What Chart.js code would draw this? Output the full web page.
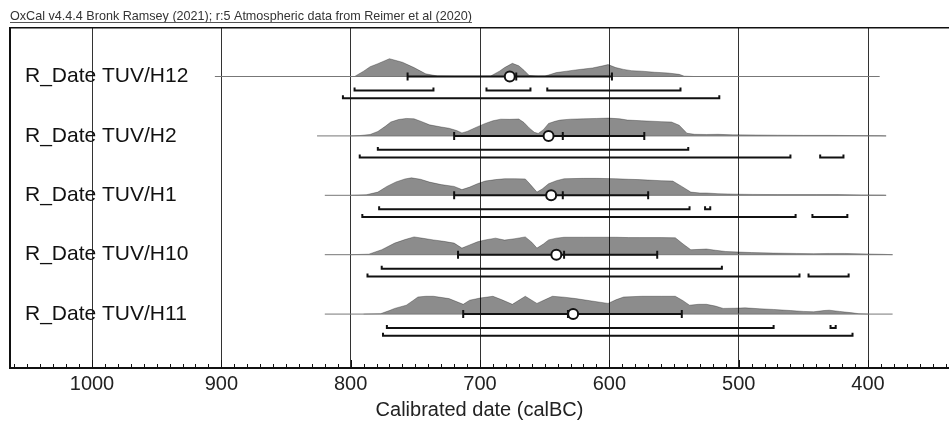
<!DOCTYPE html>
<html>
<head>
<meta charset="utf-8">
<script src="https://cdn.jsdelivr.net/npm/chart.js@4.4.1/dist/chart.umd.min.js"></script>
<style>
  html, body { margin: 0; padding: 0; background: #fff; overflow: hidden; }
  #wrap { width: 949px; height: 426px; }
</style>
</head>
<body>
<div id="wrap"><canvas id="chart"></canvas></div>
<script>
const titleText = 'OxCal v4.4.4 Bronk Ramsey (2021); r:5 Atmospheric data from Reimer et al (2020)';
const rowLabels = ['R_Date TUV/H12', 'R_Date TUV/H2', 'R_Date TUV/H1', 'R_Date TUV/H10', 'R_Date TUV/H11'];
const tickYears = [1000, 900, 800, 700, 600, 500, 400];

// probability curves (calBC, relative height)
const h12Years = [805, 797, 790, 785, 779, 770, 760, 751, 742, 733, 720, 700, 692, 685, 681, 675, 670, 666, 662, 655, 650, 641, 633, 626, 620, 613, 605, 601, 595, 589, 583, 575, 565, 555, 546, 542, 535];
const h12Prob  = [0, 0, 0.3, 0.55, 0.72, 1.0, 0.8, 0.5, 0.15, 0.03, 0.01, 0.01, 0.02, 0.3, 0.5, 0.74, 0.6, 0.35, 0.06, 0.01, 0.02, 0.22, 0.3, 0.37, 0.42, 0.48, 0.6, 0.67, 0.5, 0.4, 0.33, 0.3, 0.24, 0.2, 0.12, 0.02, 0];
const h2Years = [800, 793, 785, 779, 773, 769, 763, 757, 751, 745, 739, 730, 724, 718, 714, 710, 704, 696, 690, 684, 677, 670, 666, 662, 658, 655, 651, 647, 642, 638, 630, 620, 610, 601, 592, 586, 575, 560, 552, 546, 540, 534, 525, 516, 505, 485, 470, 450, 430, 410, 390, 386];
const h2Prob  = [0, 0.02, 0.08, 0.25, 0.55, 0.78, 0.92, 0.98, 0.96, 0.8, 0.62, 0.5, 0.43, 0.3, 0.17, 0.25, 0.45, 0.7, 0.85, 0.94, 0.93, 0.95, 0.75, 0.45, 0.2, 0.14, 0.35, 0.7, 0.82, 0.89, 0.94, 0.96, 0.98, 1.0, 0.96, 0.89, 0.85, 0.8, 0.78, 0.6, 0.15, 0.09, 0.08, 0.09, 0.06, 0.05, 0.04, 0.03, 0.03, 0.02, 0.01, 0];
const h1Years = [800, 788, 779, 772, 765, 758, 753, 746, 739, 730, 720, 714, 708, 702, 696, 688, 681, 673, 665, 661, 656, 652, 647, 641, 635, 620, 610, 595, 585, 577, 560, 551, 544, 537, 530, 525, 516, 500, 489, 470, 458, 440, 424, 405, 388, 386];
const h1Prob  = [0, 0.03, 0.18, 0.5, 0.75, 0.92, 0.98, 0.9, 0.74, 0.6, 0.5, 0.32, 0.46, 0.65, 0.8, 0.88, 0.93, 0.93, 0.92, 0.6, 0.18, 0.35, 0.65, 0.82, 0.93, 0.95, 0.95, 0.93, 0.9, 0.88, 0.82, 0.8, 0.5, 0.18, 0.13, 0.13, 0.09, 0.06, 0.05, 0.04, 0.04, 0.04, 0.04, 0.02, 0.01, 0];
const h10Years = [800, 786, 776, 766, 758, 751, 744, 736, 728, 720, 714, 708, 702, 696, 688, 681, 673, 665, 660, 656, 651, 647, 641, 635, 620, 595, 585, 577, 560, 549, 543, 537, 530, 525, 518, 510, 490, 473, 455, 442, 430, 418, 400, 388, 381];
const h10Prob  = [0, 0.03, 0.28, 0.65, 0.85, 1.0, 0.92, 0.83, 0.75, 0.65, 0.37, 0.55, 0.72, 0.83, 0.93, 0.82, 0.9, 1.0, 0.7, 0.37, 0.6, 0.83, 0.93, 0.98, 0.98, 0.98, 0.96, 0.96, 0.96, 0.95, 0.6, 0.28, 0.3, 0.32, 0.25, 0.18, 0.12, 0.09, 0.07, 0.06, 0.07, 0.07, 0.04, 0.02, 0];
const h11Years = [790, 777, 770, 766, 757, 752, 748, 742, 736, 724, 713, 708, 700, 690, 683, 675, 665, 656, 650, 644, 635, 626, 615, 601, 595, 589, 575, 560, 549, 543, 538, 531, 525, 518, 512, 503, 495, 484, 473, 460, 450, 442, 434, 430, 422, 412, 407, 400];
const h11Prob  = [0, 0.02, 0.2, 0.32, 0.5, 0.75, 0.96, 1.0, 1.0, 0.87, 0.55, 0.78, 0.9, 1.0, 0.8, 0.55, 1.0, 0.6, 0.8, 1.0, 0.95, 0.87, 0.75, 0.6, 0.8, 0.96, 1.0, 1.0, 1.0, 0.75, 0.5, 0.55, 0.55, 0.45, 0.32, 0.33, 0.35, 0.3, 0.26, 0.2, 0.15, 0.13, 0.2, 0.22, 0.15, 0.07, 0.02, 0];
const curveYears = [h12Years, h2Years, h1Years, h10Years, h11Years];
const curveProb = [h12Prob, h2Prob, h1Prob, h10Prob, h11Prob];

// extent of the thin line under each curve
const lineFrom = [905, 826, 820, 820, 820];
const lineTo   = [391, 386, 386, 381, 381];

// mean +/- sigma, mean, median
const sigmaFrom = [756, 720, 720, 717, 713];
const sigmaTo   = [598, 573, 570, 563, 544];
const means     = [677, 647, 645, 641, 628];
const medians   = [672, 636, 636, 635, 632];

// 68.3% and 95.4% ranges
const range68 = [[[797, 736], [695, 661], [648, 545]], [[779, 539]], [[778, 538], [526, 522]], [[776, 513]], [[772, 473], [429, 425]]];
const range95 = [[[806, 515]], [[793, 460], [437, 419]], [[791, 456], [443, 416]], [[787, 453], [446, 415]], [[775, 412]]];

const FONT = "'Liberation Sans', Arial, sans-serif";
const TITLE_SIZE = 12.6;
const PEAK = 0.3;       // curve height in row units
const TICK_UP = 0.05;   // bracket end height
const OFF68 = 0.235, OFF95 = 0.365;

function brackets(ranges, off) {
  const pts = [];
  ranges.forEach((row, i) => {
    row.forEach(([a, b]) => {
      pts.push({x: a, y: i + off - TICK_UP}, {x: a, y: i + off}, {x: b, y: i + off}, {x: b, y: i + off - TICK_UP}, {x: b, y: null});
    });
  });
  return pts;
}

const datasets = [];
curveYears.forEach((yrs, i) => {
  datasets.push({
    data: yrs.map((yr, k) => ({x: yr, y: i - curveProb[i][k] * PEAK})),
    fill: {value: i},
    backgroundColor: 'rgba(0,0,0,0.45)',
    borderColor: 'rgba(0,0,0,0.3)',
    borderWidth: 1,
    pointRadius: 0,
    order: 6
  });
});
datasets.push({
  data: lineFrom.flatMap((a, i) => [{x: a, y: i}, {x: lineTo[i], y: i}, {x: lineTo[i], y: null}]),
  borderColor: '#777', borderWidth: 1, pointRadius: 0, order: 5
});
datasets.push({
  data: brackets(range68, OFF68).concat(brackets(range95, OFF95)),
  borderColor: '#111', borderWidth: 2, pointRadius: 0, order: 4
});
datasets.push({
  data: sigmaFrom.flatMap((a, i) => [{x: a, y: i}, {x: sigmaTo[i], y: i}, {x: sigmaTo[i], y: null}]),
  borderColor: '#111', borderWidth: 2,
  pointStyle: 'line', rotation: 90, pointRadius: 4, pointBorderWidth: 2, pointBorderColor: '#111',
  order: 3
});
datasets.push({
  data: means.map((m, i) => ({x: m, y: i})),
  showLine: false, pointRadius: 5, pointBackgroundColor: '#fff', pointBorderColor: '#111', pointBorderWidth: 2,
  order: 2
});
datasets.push({
  data: medians.map((m, i) => ({x: m, y: i})),
  showLine: false, pointStyle: 'line', rotation: 90, pointRadius: 4, pointBorderWidth: 2, pointBorderColor: '#111',
  order: 1
});

const extras = {
  id: 'extras',
  afterDraw(chart) {
    const {ctx, chartArea, scales: {x}} = chart;
    ctx.save();
    ctx.strokeStyle = '#111';
    ctx.lineWidth = 1;
    for (let v = Math.ceil(x.min / 10) * 10; v <= x.max; v += 10) {
      const px = Math.round(x.getPixelForValue(v)) + 0.5;
      const len = v % 100 === 0 ? 8 : 4;
      ctx.beginPath();
      ctx.moveTo(px, chartArea.bottom);
      ctx.lineTo(px, chartArea.bottom - len);
      ctx.stroke();
    }
    // underline the title
    const tb = chart.titleBlock;
    const opts = tb.options;
    ctx.font = TITLE_SIZE + 'px ' + FONT;
    const w = ctx.measureText(titleText).width;
    const y = Math.round(tb.top + opts.padding.top + TITLE_SIZE * 1.2 / 2 + TITLE_SIZE * 0.5) + 0.5;
    ctx.strokeStyle = '#555';
    ctx.beginPath();
    ctx.moveTo(tb.left, y);
    ctx.lineTo(tb.left + w, y);
    ctx.stroke();
    ctx.restore();
  }
};

new Chart(document.getElementById('chart'), {
  type: 'line',
  data: {datasets},
  options: {
    responsive: true,
    maintainAspectRatio: false,
    animation: false,
    events: [],
    layout: {autoPadding: false, padding: {left: 10, right: 0, top: 0, bottom: 4}},
    plugins: {
      legend: {display: false},
      tooltip: {enabled: false},
      title: {
        display: true, text: titleText, align: 'start', color: '#333',
        font: {family: FONT, size: TITLE_SIZE, weight: 'normal'},
        padding: {top: 8, bottom: 4}
      }
    },
    scales: {
      x: {
        type: 'linear', reverse: true, min: 337.4, max: 1063.4,
        afterBuildTicks: s => { s.ticks = tickYears.map(v => ({value: v})); },
        afterFit: s => { s.height = 54; s.paddingLeft = 0; s.paddingRight = 0; },
        ticks: {color: '#222', font: {family: FONT, size: 20}, padding: 4, maxRotation: 0, callback: v => String(v)},
        grid: {color: '#333', lineWidth: 1, drawTicks: false},
        border: {display: true, color: '#111', width: 2},
        title: {display: true, text: 'Calibrated date (calBC)', color: '#222', font: {family: FONT, size: 20}, padding: {top: 0, bottom: 0}}
      },
      top: {
        type: 'linear', position: 'top', reverse: true, min: 337.4, max: 1063.4,
        afterFit: s => { s.paddingLeft = 0; s.paddingRight = 0; },
        ticks: {display: false},
        grid: {display: false, drawTicks: false},
        border: {display: true, color: '#111', width: 1.5}
      },
      y: {
        type: 'linear', reverse: true, min: -0.8235, max: 4.9076,
        afterBuildTicks: s => { s.ticks = rowLabels.map((_, i) => ({value: i})); },
        afterFit: s => { s.width = 0; },
        ticks: {mirror: true, padding: 15, color: '#111', font: {family: FONT, size: 21}, callback: v => rowLabels[v]},
        grid: {display: false, drawTicks: false},
        border: {display: true, color: '#111', width: 2}
      }
    }
  },
  plugins: [extras]
});
</script>
</body>
</html>
